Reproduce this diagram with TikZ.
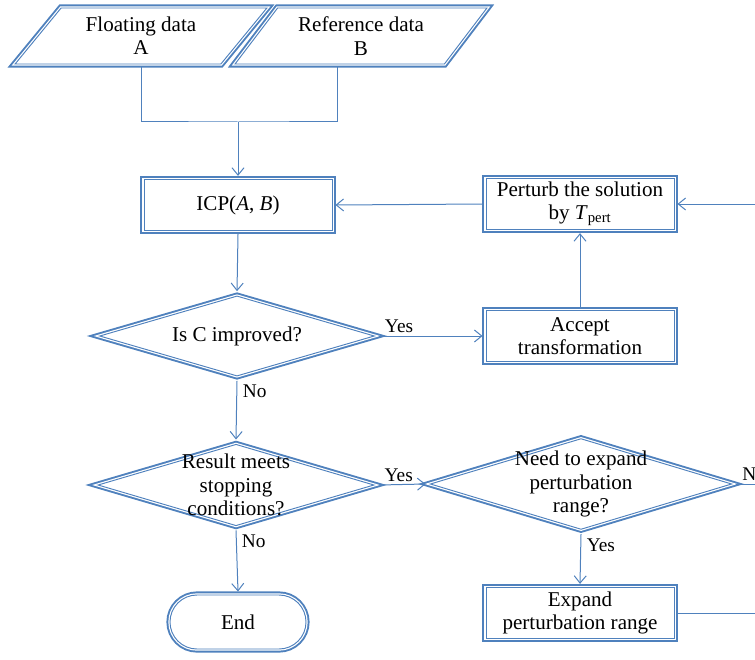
\documentclass[tikz,border=0pt]{standalone}
\usepackage{amsmath}
\usepackage{fontspec}
\setmainfont{Liberation Serif}
\usetikzlibrary{arrows.meta,shapes.geometric,shapes.misc,calc}
\definecolor{flowblue}{HTML}{4F81BD}

\begin{document}
\begin{tikzpicture}[x=0.75pt,y=-0.75pt,
    font=\fontsize{15.8pt}{17.5pt}\selectfont,
    dbl/.style={fill=white,draw=flowblue,line width=0.7pt,outer sep=2.6pt,
        preaction={draw=flowblue,line width=5.4pt},
        preaction={draw=white,line width=2.5pt}},
    datain/.style={dbl,trapezium,trapezium left angle=50,trapezium right angle=130,
        trapezium stretches=true,minimum width=189pt,minimum height=42pt,
        inner sep=0pt,align=center},
    proc/.style={dbl,rectangle,minimum width=141pt,minimum height=38.5pt,
        inner sep=0pt,align=center},
    decision/.style={dbl,diamond,inner sep=0pt},
    term/.style={dbl,rounded rectangle,minimum width=102pt,minimum height=40.5pt,
        inner sep=0pt},
    flow/.style={draw=flowblue,line width=0.75pt,-{Straight Barb[length=5.5pt,width=9pt]}},
    link/.style={draw=flowblue,line width=0.75pt},
    lblup/.style={inner sep=1pt,anchor=south west,xshift=3pt,yshift=1pt,
        font=\fontsize{14.5pt}{16pt}\selectfont},
    lbldown/.style={inner sep=1pt,anchor=north west,xshift=3pt,yshift=-2pt,
        font=\fontsize{14.5pt}{16pt}\selectfont}]
    \useasboundingbox (0,0) rectangle (755,659);

    % inputs
    \node[datain] (fdata) at (141,36) {Floating data\\A};
    \node[datain] (rdata) at (361,36) {Reference data\\B};

    % boxes
    \node[proc] (icp) at (238,205) {ICP(\textit{A}, \textit{B})};
    \node[proc] (perturb) at (580,204) {Perturb the solution\\by \textit{T}$_{\text{pert}}$};
    \node[proc] (accept) at (580,336) {Accept\\transformation};
    \node[proc] (expand) at (580,613) {Expand\\perturbation range};
    \node[term] (finish) at (238,622) {End};

    % decisions
    \node[decision,minimum width=208pt,minimum height=62pt,
        label={center:Is C improved?}] (improved) at (237,336) {};
    \node[decision,minimum width=209pt,minimum height=63pt,
        label={[align=center]center:Result meets\\stopping\\conditions?}] (stopok) at (236,485) {};
    \node[decision,minimum width=228pt,minimum height=70pt,
        label={[align=center]center:Need to expand\\perturbation\\range?}] (needexp) at (581,484) {};

    \coordinate (merge) at (238,122);
    \coordinate (rmid) at ($(rdata.bottom left corner)!0.5!(rdata.bottom right corner)$);
    \coordinate (outtop) at (760,204);
    \coordinate (outmid) at (760,484);
    \coordinate (outbot) at (760,613);

    \draw[link] (fdata.south) |- (merge) -| (rmid |- fdata.south);
    \draw[flow] (merge) -- (icp.north);
    \draw[flow] (perturb.west) -- (icp.east);
    \draw[flow] (outtop) -- (perturb.east);
    \draw[flow] (accept.north) -- (perturb.south);
    \draw[flow] (icp.south) -- (improved.north);

    \draw[flow] (improved.east) node[lblup] {Yes} -- (accept.west);
    \draw[flow] (improved.south) node[lbldown] {No} -- (stopok.north);
    \draw[flow] (stopok.east) node[lblup] {Yes} -- (needexp.west);
    \draw[flow] (stopok.south) node[lbldown] {No} -- (finish.north);
    \draw[link] (needexp.east) node[lblup] {No} -- (outmid);
    \draw[flow] (needexp.south) node[lbldown] {Yes} -- (expand.north);
    \draw[link] (expand.east) -- (outbot);
\end{tikzpicture}
\end{document}
